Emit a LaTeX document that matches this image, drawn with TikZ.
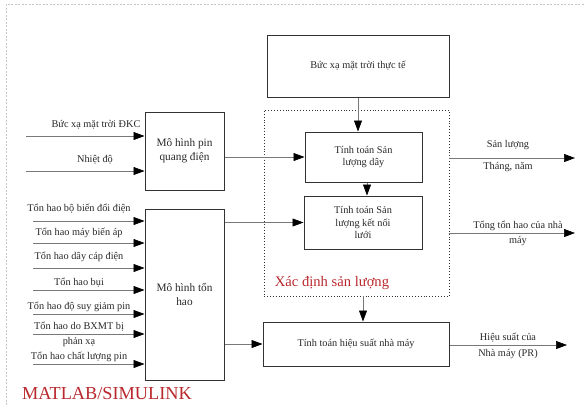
\documentclass[tikz,border=0pt]{standalone}
\usepackage{fontspec}
\setmainfont{Liberation Serif}
\usetikzlibrary{arrows.meta, positioning, calc}
\definecolor{vien}{RGB}{50, 50, 50}
\definecolor{chu}{RGB}{40, 40, 40}
\definecolor{duong}{RGB}{120, 120, 120}
\definecolor{dotuoi}{RGB}{185, 40, 45}

\tikzset{
    khoi/.style={draw=vien, line width=1pt, text=chu, align=center, inner sep=2pt,
        font=\fontsize{10.3}{12.4}\selectfont},
    khoilon/.style={khoi, font=\fontsize{11.3}{14}\selectfont},
    muiten/.style={draw=duong, line width=0.6pt, -{Triangle[length=11pt, width=8pt, color=black]}},
    nhan/.style={text=chu, align=center, inner sep=0pt, font=\fontsize{10.3}{12.4}\selectfont},
}

\begin{document}
\begin{tikzpicture}[x=1pt, y=-1pt]
        \useasboundingbox (0,0) rectangle (585,405);

        % khung ngoai
        \draw[gray!45, dashed, dash pattern=on 2pt off 1.5pt] (6,405) -- (6,4) -- (585,4);

        % cac khoi
        \node[khoi, minimum width=182pt, minimum height=62pt] (thucte) at (358,66) {Bức xạ mặt trời thực tế};
        \node[draw=vien, dotted, line width=0.9pt, minimum width=185pt, minimum height=186pt] (xacdinh) at (356.5,203) {};
        \node[khoi, minimum width=117pt, minimum height=50pt] (sanluong) at (363.5,157) {Tính toán Sản\\lượng dây};
        \node[khoi, minimum width=118pt, minimum height=53pt] (ketnoi) at (363,222.5) {Tính toán Sản\\lượng kết nối\\lưới};
        \node[khoi, minimum width=186pt, minimum height=44pt] (hieusuat) at (356,344) {Tính toán hiệu suất nhà máy};
        \node[khoilon, minimum width=79pt, minimum height=78pt] (pin) at (184.5,151) {Mô hình pin\\quang điện};
        \node[khoilon, minimum width=79pt, minimum height=171pt] (tonhao) at (184.5,294.5) {Mô hình tổn\\hao};

        % nhan do
        \node[text=dotuoi, inner sep=0pt, font=\fontsize{14.6}{17}\selectfont] (tenxd) at (332,283) {Xác định sản lượng};
        \node[text=dotuoi, inner sep=0pt, font=\fontsize{18.3}{21}\selectfont] (matlab) at (107,394) {MATLAB/SIMULINK};

        % dau vao mo hinh pin
        \coordinate (vaodkc) at (26,136);
        \coordinate (vaont) at (26,171);
        \draw[muiten] (vaodkc) -- (vaodkc -| pin.west);
        \draw[muiten] (vaont) -- (vaont -| pin.west);
        \node[nhan] (nhandkc) at (96,125) {Bức xạ mặt trời ĐKC};
        \node[nhan] (nhannt) at (95,160) {Nhiệt độ};

        % dau vao mo hinh ton hao
        \foreach \y/\ly/\txt [count=\i] in {221/209/{Tổn hao bộ biến đổi điện},
                243/233/{Tổn hao máy biến áp},
                268/257/{Tổn hao dây cáp điện},
                290/283/{Tổn hao bụi},
                314/307/{Tổn hao độ suy giảm pin},
                334/334.5/{Tổn hao do BXMT bị\\[2.6pt]phản xạ},
                364/357/{Tổn hao chất lượng pin}} {
            \coordinate (vao\i) at (33,\y);
            \draw[muiten] (vao\i) -- (vao\i -| tonhao.west);
            \node[nhan] (nhanvao\i) at (79,\ly) {\txt};
        }

        % ket noi giua cac khoi
        \draw[muiten] (thucte.south) -- (thucte.south |- sanluong.north);
        \draw[muiten] ($(sanluong.south)+(3.5,0)$) -- ($(sanluong.south |- ketnoi.north)+(3.5,0)$);
        \draw[muiten] (sanluong.west -| pin.east) -- (sanluong.west);
        \draw[muiten] (ketnoi.west -| tonhao.east) -- (ketnoi.west);
        \draw[muiten] (hieusuat.west -| tonhao.east) -- (hieusuat.west);
        \draw[muiten] ($(xacdinh.south)+(6.5,0)$) -- ($(xacdinh.south |- hieusuat.north)+(6.5,0)$);

        % dau ra
        \coordinate (rasl) at (575,158);
        \coordinate (rath) at (575,233);
        \coordinate (rapr) at (567,345);
        \draw[muiten] (xacdinh.east |- rasl) -- (rasl);
        \draw[muiten] (xacdinh.east |- rath) -- (rath);
        \draw[muiten] (hieusuat.east |- rapr) -- (rapr);
        \node[nhan] (nhansl) at (508,156) {Sản lượng\\[9.6pt]Tháng, năm};
        \node[nhan] (nhanth) at (518,233.5) {Tổng tổn hao của nhà\\[2.6pt]máy};
        \node[nhan] (nhanpr) at (508,346) {Hiệu suất của\\[3.6pt]Nhà máy (PR)};

    \end{tikzpicture}
\end{document}
